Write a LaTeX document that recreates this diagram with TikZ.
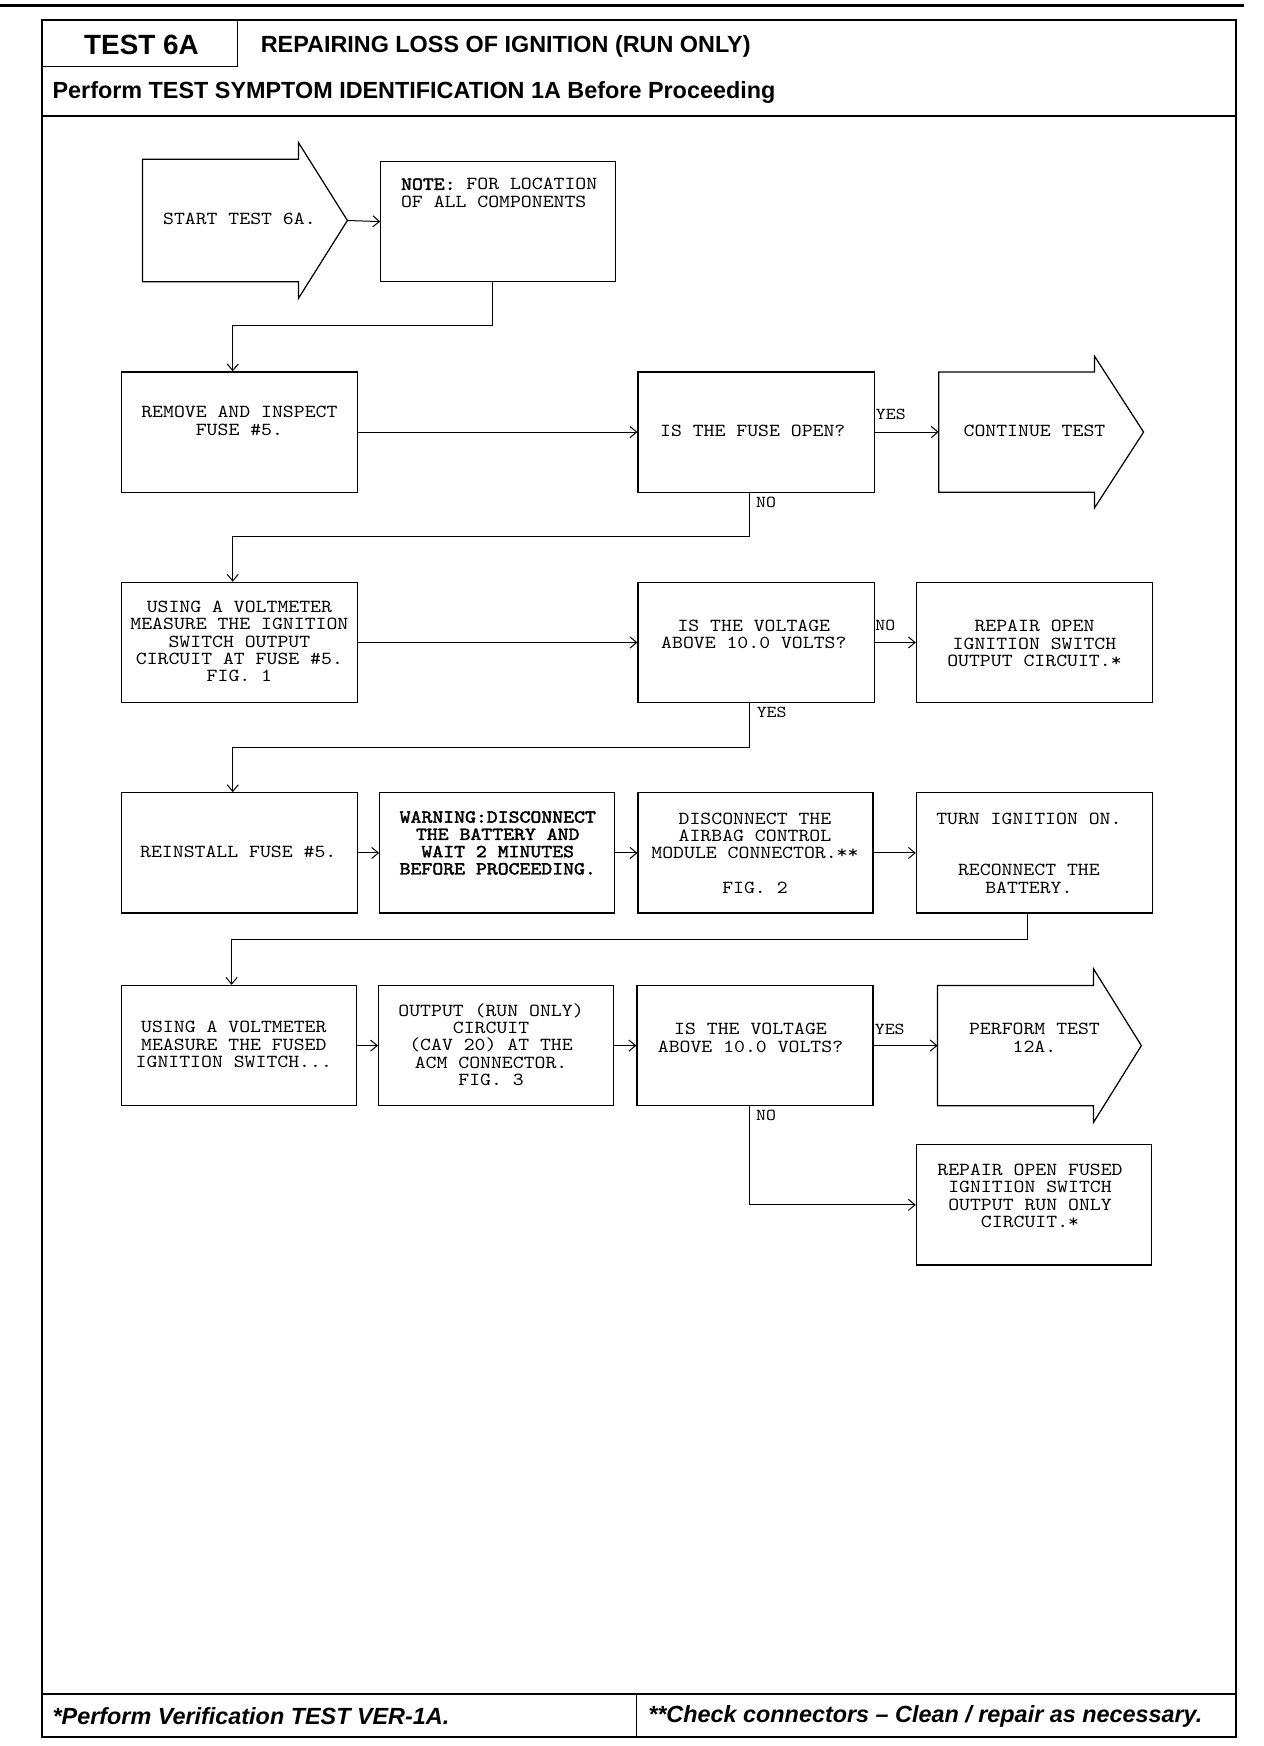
\documentclass[tikz,border=0pt]{standalone}
\usepackage{fontspec}
\newfontfamily\hdr{Liberation Sans}
\newfontfamily\mono[Extension=.otf,FakeStretch=1.13]{lmmono10-regular}
\newfontfamily\monob[Extension=.otf,FakeStretch=1.13,FakeBold=2.2]{lmmono10-regular}
\usetikzlibrary{arrows.meta}
\begin{document}
\begin{tikzpicture}[x=1pt,y=-1pt,
  box/.style={draw, line width=1.1pt, minimum width=212pt, minimum height=108pt, inner sep=0pt},
  txt/.style={font={\mono\fontsize{16.5}{15.5}\selectfont\lineskiplimit=-100pt}, align=center, inner sep=0pt},
  lbl/.style={font={\mono\fontsize{15}{15}\selectfont}, inner sep=0pt},
  hdrtxt/.style={font={\hdr\bfseries\fontsize{21}{24}\selectfont}, inner sep=0pt},
  ftrtxt/.style={font={\hdr\bfseries\itshape\fontsize{21}{24}\selectfont}, inner sep=0pt},
  conn/.style={line width=0.9pt},
  arr/.style={conn, -{Straight Barb[length=6pt,width=10pt,line width=0.9pt]}},
  bigarrow/.style={draw, line width=1.1pt, line join=miter},
  frm/.style={line width=1.8pt}
]
\useasboundingbox (0,0) rectangle (1135,1568);
% page furniture
\draw[line width=2.2pt] (0,5) -- (1117,5);
\draw[frm] (38,18) rectangle (1110,1560);
\draw[line width=1.2pt] (213,18) -- (213,60) -- (38,60);
\draw[line width=1.5pt] (38,104) -- (1110,104);
\draw[line width=1.5pt] (38,1521) -- (1110,1521);
\draw[line width=1pt] (572,1521) -- (572,1560);
\node[font={\hdr\bfseries\fontsize{25}{28}\selectfont}, inner sep=0pt] (t6a) at (127,40) {TEST 6A};
\node[hdrtxt, anchor=west] (title) at (234,42) {REPAIRING LOSS OF IGNITION (RUN ONLY)};
\node[hdrtxt, anchor=west] (pre) at (47,83) {Perform TEST SYMPTOM IDENTIFICATION 1A Before Proceeding};
\node[ftrtxt, anchor=west] (f1) at (47,1541) {*Perform Verification TEST VER-1A.};
\node[ftrtxt, anchor=west] (f2) at (582,1541) {**Check connectors – Clean / repair as necessary.};

% start arrow
\draw[bigarrow] (128,143) -- (268,143) -- (268,128) -- (312,198) -- (268,268) -- (268,253) -- (128,253) -- cycle;
\coordinate (starttip) at (312,198);
\node[txt] (startT) at (215,197) {START TEST 6A.};
% note
\node[box, minimum width=211pt] (note) at (447.5,199) {};
\node[txt, align=left, anchor=north west] (noteT) at (360,160) {{\monob NOTE:} FOR LOCATION\\OF ALL COMPONENTS};

% row B
\node[box] (remove) at (215,388) {};
\node[txt] (removeT) at (215,378) {REMOVE AND INSPECT\\FUSE \#5.};
\node[box] (fuse) at (679,388) {};
\node[txt] (fuseT) at (676,387) {IS THE FUSE OPEN?};
\draw[bigarrow] (843,334) -- (983,334) -- (983,320) -- (1027,388) -- (983,456) -- (983,442) -- (843,442) -- cycle;
\coordinate (contin) at (843,388);
\node[txt] (contT) at (929,387) {CONTINUE TEST};
\node[lbl] (yes1) at (800,372) {YES};
\node[lbl] (no1) at (688,451) {NO};

% row C
\node[box] (using1) at (215,577) {};
\node[txt] (using1T) at (215,576) {USING A VOLTMETER\\MEASURE THE IGNITION\\SWITCH OUTPUT\\CIRCUIT AT FUSE \#5.\\FIG. 1};
\node[box] (volt1) at (679,577) {};
\node[txt] (volt1T) at (677,570) {IS THE VOLTAGE\\ABOVE 10.0 VOLTS?};
\node[box] (repair1) at (929,577) {};
\node[txt] (repair1T) at (929,578) {REPAIR OPEN\\IGNITION SWITCH\\OUTPUT CIRCUIT.*};
\node[lbl] (no2) at (795,562) {NO};
\node[lbl] (yes2) at (693,640) {YES};

% row D
\node[box] (reinstall) at (215,766) {};
\node[txt] (reinstallT) at (214,765) {REINSTALL FUSE \#5.};
\node[box, minimum width=211pt] (warning) at (446.5,766) {};
\node[txt, font={\monob\fontsize{16.5}{15.5}\selectfont\lineskiplimit=-100pt}] (warningT) at (447,757) {WARNING:DISCONNECT\\THE BATTERY AND\\WAIT 2 MINUTES\\BEFORE PROCEEDING.};
\node[box, minimum width=211pt] (disc) at (678.5,766) {};
\node[txt] (discT) at (678,766) {DISCONNECT THE\\AIRBAG CONTROL\\MODULE CONNECTOR.**\\[15.5pt]FIG. 2};
\node[box] (turn) at (929,766) {};
\node[txt] (turnT) at (924,766) {TURN IGNITION ON.\\[31pt]RECONNECT THE\\BATTERY.};

% row E
\node[box, minimum width=211pt] (using2) at (214.5,939) {};
\node[txt] (using2T) at (210,938) {USING A VOLTMETER\\MEASURE THE FUSED\\IGNITION SWITCH...};
\node[box, minimum width=211pt] (output) at (445.5,939) {};
\node[txt] (outputT) at (441,938) {OUTPUT (RUN ONLY)\\CIRCUIT\\(CAV 20) AT THE\\ACM CONNECTOR.\\FIG. 3};
\node[box] (volt2) at (678,939) {};
\node[txt] (volt2T) at (674,932) {IS THE VOLTAGE\\ABOVE 10.0 VOLTS?};
\draw[bigarrow] (842,885) -- (982,885) -- (982,870) -- (1025,939) -- (982,1008) -- (982,993) -- (842,993) -- cycle;
\coordinate (perfin) at (842,939);
\node[txt] (performT) at (929,932) {PERFORM TEST\\12A.};
\node[lbl] (yes3) at (799,924) {YES};
\node[box, minimum width=211pt] (repair2) at (928.5,1082) {};
\node[txt] (repair2T) at (925,1074) {REPAIR OPEN FUSED\\IGNITION SWITCH\\OUTPUT RUN ONLY\\CIRCUIT.*};
\node[lbl] (no3) at (688,1002) {NO};

% connectors
\draw[arr] (starttip) -- (note.west);
\draw[arr] (442,0 |- note.south) -- (442,292) -- (209,292) -- (209,0 |- remove.north);
\draw[arr] (remove.east) -- (fuse.west);
\draw[arr] (fuse.east) -- (contin);
\draw[arr] (673,0 |- fuse.south) -- (673,482) -- (209,482) -- (209,0 |- using1.north);
\draw[arr] (using1.east) -- (volt1.west);
\draw[arr] (volt1.east) -- (repair1.west);
\draw[arr] (673,0 |- volt1.south) -- (673,671) -- (209,671) -- (209,0 |- reinstall.north);
\draw[arr] (reinstall.east) -- (warning.west);
\draw[arr] (warning.east) -- (disc.west);
\draw[arr] (disc.east) -- (turn.west);
\draw[arr] (923,0 |- turn.south) -- (923,844) -- (208,844) -- (208,0 |- using2.north);
\draw[arr] (using2.east) -- (output.west);
\draw[arr] (output.east) -- (volt2.west);
\draw[arr] (volt2.east) -- (perfin);
\draw[arr] (673,0 |- volt2.south) |- (repair2.west);
\end{tikzpicture}
\end{document}
